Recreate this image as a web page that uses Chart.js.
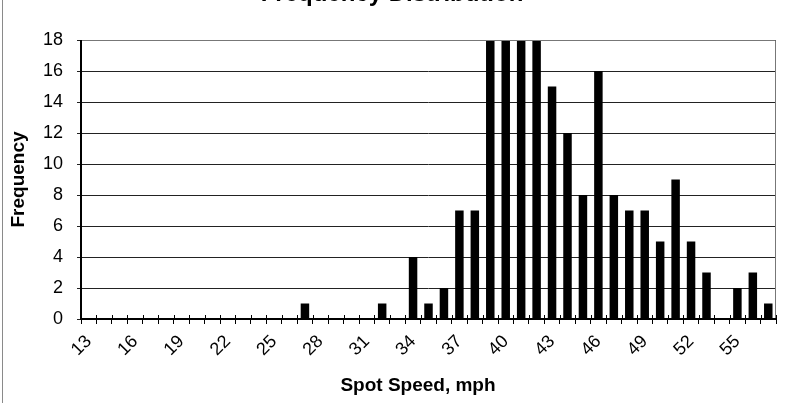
<!DOCTYPE html>
<html>
<head>
<meta charset="utf-8">
<script src="https://cdn.jsdelivr.net/npm/chart.js@4.4.1/dist/chart.umd.min.js"></script>
<style>
  html, body { margin: 0; padding: 0; background: #fff; }
  #wrap { width: 785px; height: 403px; position: relative; }
</style>
</head>
<body>
<div id="wrap"><canvas id="speedChart"></canvas></div>
<script>
// ---- Data ----
const speeds = [13, 14, 15, 16, 17, 18, 19, 20, 21, 22, 23, 24, 25, 26, 27,
  28, 29, 30, 31, 32, 33, 34, 35, 36, 37, 38, 39, 40, 41, 42, 43, 44, 45,
  46, 47, 48, 49, 50, 51, 52, 53, 54, 55, 56, 57];
const frequency = [0, 0, 0, 0, 0, 0, 0, 0, 0, 0, 0, 0, 0, 0, 1,
  0, 0, 0, 0, 1, 0, 4, 1, 2, 7, 7, 22, 26, 25, 20, 15, 12, 8,
  16, 8, 7, 7, 5, 9, 5, 3, 0, 2, 3, 1];
// bars 39-42 run off the top of the axis; their heights are estimates
const shownTicks = [13, 16, 19, 22, 25, 28, 31, 34, 37, 40, 43, 46, 49, 52, 55];
const yTicks = [0, 2, 4, 6, 8, 10, 12, 14, 16, 18];

const FONT = "'Liberation Sans', Arial, sans-serif";

// ---- Extras: cut-off title, x title, plot frame, x ticks crossing the axis ----
const framePlugin = {
  id: 'frame',
  afterDraw(chart) {
    const { ctx, chartArea: a } = chart;
    ctx.save();
    // page frame line on the left
    ctx.strokeStyle = '#8a8a8a';
    ctx.lineWidth = 1;
    ctx.beginPath();
    ctx.moveTo(2.5, 0);
    ctx.lineTo(2.5, 403);
    ctx.stroke();
    // grey top/right frame of plot
    ctx.strokeStyle = '#777';
    ctx.beginPath();
    ctx.moveTo(a.left, a.top + 0.5);
    ctx.lineTo(a.right - 0.5, a.top + 0.5);
    ctx.lineTo(a.right - 0.5, a.bottom);
    ctx.stroke();
    // small ticks above the x axis
    const xs = chart.scales.x;
    ctx.strokeStyle = '#000';
    for (let i = 0; i <= speeds.length; i++) {
      const x = Math.round(xs.left + (i * (xs.right - xs.left)) / speeds.length) + 0.5;
      ctx.beginPath();
      ctx.moveTo(x, a.bottom - 4);
      ctx.lineTo(x, a.bottom);
      ctx.stroke();
    }
    // axis lines
    ctx.lineWidth = 2;
    ctx.beginPath();
    ctx.moveTo(a.left, a.top);
    ctx.lineTo(a.left, a.bottom);
    ctx.lineTo(a.right, a.bottom);
    ctx.stroke();
    ctx.fillStyle = '#000';
    ctx.textAlign = 'center';
    // x axis title (sits a little left of the plot centre in the reference)
    ctx.font = 'bold 19px ' + FONT;
    ctx.textBaseline = 'middle';
    ctx.fillText('Spot Speed, mph', 418, 386);
    // chart title, mostly above the top edge as in the reference
    ctx.font = 'bold 24px ' + FONT;
    ctx.textBaseline = 'alphabetic';
    ctx.fillText('Frequency Distribution', 392, 1);
    ctx.restore();
  },
};

new Chart(document.getElementById('speedChart').getContext('2d'), {
  type: 'bar',
  data: {
    labels: speeds,
    datasets: [
      {
        label: 'Frequency',
        data: frequency,
        backgroundColor: '#000',
        borderWidth: 0,
        barPercentage: 0.55,
        categoryPercentage: 1.0,
      },
    ],
  },
  options: {
    responsive: true,
    maintainAspectRatio: false,
    animation: false,
    layout: { padding: { top: 40, right: 9, left: 0, bottom: 0 } },
    plugins: {
      legend: { display: false },
      tooltip: { enabled: false },
    },
    scales: {
      x: {
        offset: true,
        grid: {
          offset: true,
          drawOnChartArea: false,
          color: '#000',
          tickLength: 5,
        },
        border: { display: false },
        ticks: {
          autoSkip: false,
          maxRotation: 45,
          minRotation: 45,
          padding: 7,
          color: '#000',
          font: { family: FONT, size: 18 },
          callback: (value, index) =>
            shownTicks.includes(speeds[index]) ? String(speeds[index]) : '',
        },
        afterFit: (scale) => {
          scale.height = 84;
          scale.paddingLeft = 0;
          scale.paddingRight = 0;
        },
      },
      y: {
        min: 0,
        max: 18,
        afterBuildTicks: (scale) => {
          scale.ticks = yTicks.map((v) => ({ value: v }));
        },
        grid: {
          color: '#222',
          tickLength: 4,
        },
        border: { display: false },
        ticks: {
          padding: 14,
          color: '#000',
          font: { family: FONT, size: 18 },
        },
        title: {
          display: true,
          text: 'Frequency',
          color: '#000',
          font: { family: FONT, size: 19, weight: 'bold' },
          padding: { top: 7, bottom: 0 },
        },
        afterFit: (scale) => { scale.width = 81; },
      },
    },
  },
  plugins: [framePlugin],
});
</script>
</body>
</html>
